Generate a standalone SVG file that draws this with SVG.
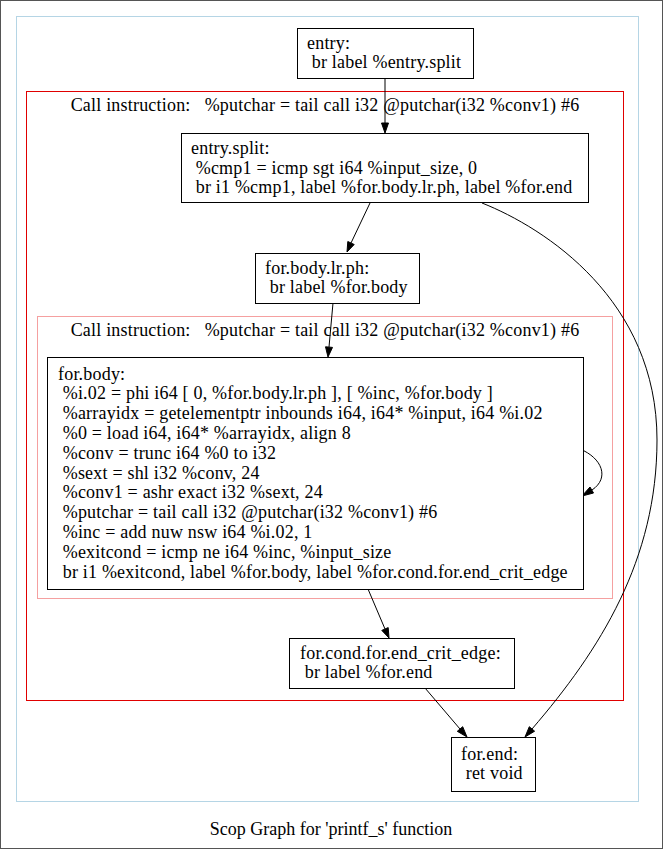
<svg xmlns="http://www.w3.org/2000/svg" width="663" height="849" viewBox="0 0 663 849">
<style>
text{font-family:"Liberation Serif","Times New Roman",serif;font-size:18px;fill:#000;letter-spacing:0.2px}
text.title{letter-spacing:0}
.node{fill:#fff;stroke:#000;stroke-width:1}
.edge{fill:none;stroke:#000;stroke-width:1}
.ah{fill:#000;stroke:#000;stroke-width:1}
</style>
<rect x="0.5" y="0.5" width="662" height="848" fill="#fff" stroke="#555"/>
<g id="cluster_blue"><rect x="16.5" y="16.5" width="622" height="785" fill="none" stroke="#b5d5e5"/></g>
<g id="cluster_red"><rect x="26.5" y="91.5" width="597" height="609" fill="none" stroke="#e00000"/>
<text x="325" y="111" text-anchor="middle" xml:space="preserve">Call instruction:   %putchar = tail call i32 @putchar(i32 %conv1) #6</text></g>
<g id="cluster_pink"><rect x="37.5" y="316.5" width="575" height="282" fill="none" stroke="#f5a0a0"/>
<text x="325" y="336" text-anchor="middle" xml:space="preserve">Call instruction:   %putchar = tail call i32 @putchar(i32 %conv1) #6</text></g>
<g id="connectors">
<path class="edge" d="M385,78 L385,123"/><polygon class="ah" points="381.5,123 385,133 388.5,123"/>
<path class="edge" d="M370,203 L351,243"/><polygon class="ah" points="347.8,241.5 347,252 354.2,244.5"/>
<path class="edge" d="M482,203 C545,228 657,300 657,440 C657,560 600,650 532,729"/><polygon class="ah" points="529.3,726.7 525,737 534.6,731.2"/>
<path class="edge" d="M333,303 L329,347"/><polygon class="ah" points="325.5,346.8 328,357 332.5,347.4"/>
<path class="edge" d="M580,449 C602,458 610,478 592,490"/><polygon class="ah" points="590,487 582,496 593.5,493"/>
<path class="edge" d="M368,589 L385,629"/><polygon class="ah" points="381.8,630.4 389,638 388.2,627.6"/>
<path class="edge" d="M425,688 L460,729"/><polygon class="ah" points="457.3,731.3 467,737 462.7,726.7"/>
</g>
<g id="entry"><rect class="node" x="297.5" y="28.5" width="176" height="50"/>
<text x="307" y="48.6">entry:</text><text x="307" y="68.4" xml:space="preserve"> br label %entry.split</text></g>
<g id="entry_split"><rect class="node" x="181.5" y="133.5" width="407" height="69"/>
<text x="191" y="153.7">entry.split:</text>
<text x="191" y="173.5" xml:space="preserve"> %cmp1 = icmp sgt i64 %input_size, 0</text>
<text x="191" y="193.3" xml:space="preserve"> br i1 %cmp1, label %for.body.lr.ph, label %for.end</text></g>
<g id="for_body_lr_ph"><rect class="node" x="255.5" y="253.5" width="164" height="50"/>
<text x="265" y="273.6">for.body.lr.ph:</text><text x="265" y="293.4" xml:space="preserve"> br label %for.body</text></g>
<g id="for_body"><rect class="node" x="47.5" y="357.5" width="536" height="232"/>
<text x="58" y="379.5">for.body:</text>
<text x="58" y="399.3" xml:space="preserve"> %i.02 = phi i64 [ 0, %for.body.lr.ph ], [ %inc, %for.body ]</text>
<text x="58" y="419.1" xml:space="preserve"> %arrayidx = getelementptr inbounds i64, i64* %input, i64 %i.02</text>
<text x="58" y="438.9" xml:space="preserve"> %0 = load i64, i64* %arrayidx, align 8</text>
<text x="58" y="458.7" xml:space="preserve"> %conv = trunc i64 %0 to i32</text>
<text x="58" y="478.5" xml:space="preserve"> %sext = shl i32 %conv, 24</text>
<text x="58" y="498.3" xml:space="preserve"> %conv1 = ashr exact i32 %sext, 24</text>
<text x="58" y="518.1" xml:space="preserve"> %putchar = tail call i32 @putchar(i32 %conv1) #6</text>
<text x="58" y="537.9" xml:space="preserve"> %inc = add nuw nsw i64 %i.02, 1</text>
<text x="58" y="557.7" xml:space="preserve"> %exitcond = icmp ne i64 %inc, %input_size</text>
<text x="58" y="577.5" xml:space="preserve"> br i1 %exitcond, label %for.body, label %for.cond.for.end_crit_edge</text></g>
<g id="for_cond"><rect class="node" x="289.5" y="638.5" width="225" height="50"/>
<text x="300" y="658.6">for.cond.for.end_crit_edge:</text><text x="300" y="678.4" xml:space="preserve"> br label %for.end</text></g>
<g id="for_end"><rect class="node" x="451.5" y="737.5" width="84" height="54"/>
<text x="461" y="759.6">for.end:</text><text x="461" y="779.4" xml:space="preserve"> ret void</text></g>
<text class="title" x="331" y="835" text-anchor="middle">Scop Graph for 'printf_s' function</text>
</svg>
